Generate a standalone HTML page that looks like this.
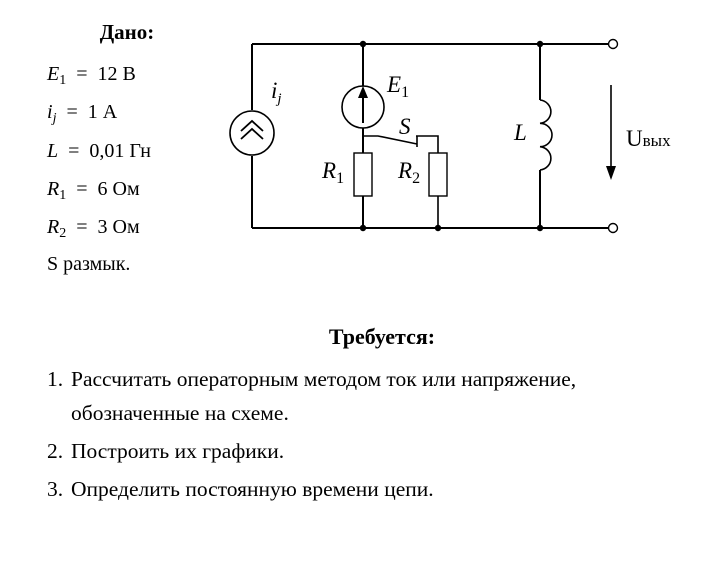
<!DOCTYPE html>
<html><head><meta charset="utf-8"><style>
html,body{margin:0;padding:0;background:#fff;}
svg{display:block;}
text{font-family:"Liberation Serif",serif;fill:#000;}
.m{font-size:20px;}
.v{font-style:italic;}
</style></head><body>
<svg width="709" height="568" viewBox="0 0 709 568" xmlns="http://www.w3.org/2000/svg">
<text x="127" y="39" font-size="21" font-weight="bold" text-anchor="middle">Дано:</text>
<g class="m">
<text x="47" y="80" xml:space="preserve"><tspan class="v">E</tspan><tspan font-size="14" dy="4">1</tspan><tspan dy="-4">  =  12 В</tspan></text>
<text x="47" y="118" xml:space="preserve"><tspan class="v">i</tspan><tspan font-size="14" dy="4" class="v">j</tspan><tspan dy="-4">  =  1 А</tspan></text>
<text x="47" y="157" xml:space="preserve"><tspan class="v">L</tspan>  =  0,01 Гн</text>
<text x="47" y="195" xml:space="preserve"><tspan class="v">R</tspan><tspan font-size="14" dy="4">1</tspan><tspan dy="-4">  =  6 Ом</tspan></text>
<text x="47" y="233" xml:space="preserve"><tspan class="v">R</tspan><tspan font-size="14" dy="4">2</tspan><tspan dy="-4">  =  3 Ом</tspan></text>
<text x="47" y="270">S размык.</text>
</g>
<g stroke="#000" stroke-width="2" fill="none">
<path d="M252 44 H609 M252 228 H609 M252 44 V110 M252 156 V228"/>
<circle cx="252" cy="133" r="22" stroke-width="1.6"/>
<path d="M241 131 L252 121 L263 131 M241 139 L252 129 L263 139" stroke-width="1.8"/>
<path d="M363 44 V86 M363 128 V153 M363 196 V228"/>
<circle cx="363" cy="107" r="21" stroke-width="1.6"/>
<path d="M363 123 V96"/>
<rect x="354" y="153" width="18" height="43" stroke-width="1.4"/>
<path d="M363 136 H378 L417 144 M417 136 V147 M416 136 H438 V153 M438 196 V228" stroke-width="1.6"/>
<rect x="429" y="153" width="18" height="43" stroke-width="1.4"/>
<path d="M540 44 V100 M540 170 V228"/>
<path d="M540 100 A12 11.7 0 0 1 540 123.3 A12 11.7 0 0 1 540 146.7 A12 11.7 0 0 1 540 170" stroke-width="1.6"/>
<path d="M611 85 V168" stroke-width="1.6"/>
<circle cx="613" cy="44" r="4.5" fill="#fff" stroke-width="1.4"/>
<circle cx="613" cy="228" r="4.5" fill="#fff" stroke-width="1.4"/>
</g>
<polygon points="363,86 358,98 368,98" fill="#000"/>
<polygon points="606,166 616,166 611,180" fill="#000"/>
<g fill="#000">
<circle cx="363" cy="44" r="3.2"/><circle cx="540" cy="44" r="3.2"/>
<circle cx="363" cy="228" r="3.2"/><circle cx="438" cy="228" r="3.2"/><circle cx="540" cy="228" r="3.2"/>
</g>
<g font-size="23">
<text x="271" y="98" class="v">i<tspan font-size="15" dy="5">j</tspan></text>
<text x="387" y="92" class="v">E<tspan font-size="16" dy="5" font-style="normal">1</tspan></text>
<text x="399" y="134" class="v">S</text>
<text x="322" y="178" class="v">R<tspan font-size="16" dy="5" font-style="normal">1</tspan></text>
<text x="398" y="178" class="v">R<tspan font-size="16" dy="5" font-style="normal">2</tspan></text>
<text x="514" y="140" class="v">L</text>
<text x="626" y="146" font-size="23">U<tspan font-size="17">вых</tspan></text>
</g>
<text x="382" y="344" font-size="22" font-weight="bold" text-anchor="middle">Требуется:</text>
<g font-size="21.5">
<text x="47" y="386">1.</text><text x="71" y="386">Рассчитать операторным методом ток или напряжение,</text>
<text x="71" y="420">обозначенные на схеме.</text>
<text x="47" y="458">2.</text><text x="71" y="458">Построить их графики.</text>
<text x="47" y="496">3.</text><text x="71" y="496">Определить постоянную времени цепи.</text>
</g>
</svg>
</body></html>
